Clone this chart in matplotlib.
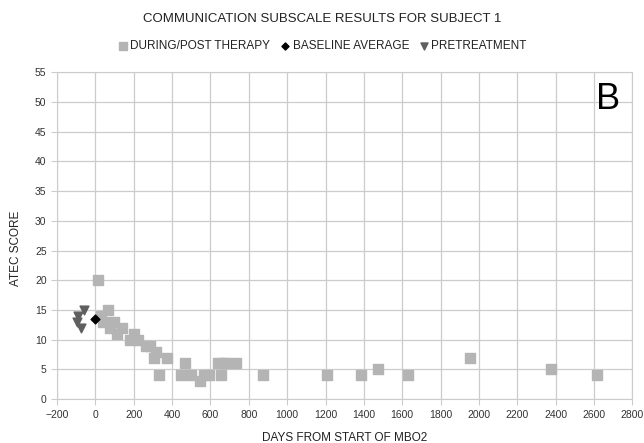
import numpy as np
import matplotlib.pyplot as plt

plt.rcParams['font.family'] = ['Liberation Sans', 'DejaVu Sans']

# during/post therapy measurements (days, score)
therapy_days = [14, 31, 40, 64, 78, 99, 115, 139, 179, 204, 221, 263, 287, 305, 318,
                334, 371, 444, 466, 501, 548, 566, 592, 641, 657, 665, 679, 731, 874,
                1210, 1384, 1474, 1628, 1955, 2376, 2616]
therapy_score = [20, 14, 13, 15, 12, 13, 11, 12, 10, 11, 10, 9, 9, 7, 8,
                 4, 7, 4, 6, 4, 3, 4, 4, 6, 4, 6, 6, 6, 4,
                 4, 4, 5, 4, 7, 5, 4]

baseline_days = [0]
baseline_score = [13.5]

pre_days = [-96, -90, -75, -61]
pre_score = [13, 14, 12, 15]

fig = plt.figure(figsize=(6.44, 4.43), dpi=100)
ax = fig.add_axes([0.0885, 0.099, 0.8935, 0.738])

ax.scatter(therapy_days, therapy_score, marker='s', s=42, color='#b4b4b4',
           label='DURING/POST THERAPY', zorder=3)
ax.scatter(baseline_days, baseline_score, marker='D', s=20, color='black',
           label='BASELINE AVERAGE', zorder=4)
ax.scatter(pre_days, pre_score, marker='v', s=40, color='#5f5f5f',
           label='PRETREATMENT', zorder=3)

ax.set_xlim(-200, 2800)
ax.set_ylim(0, 55)
ax.set_xticks(np.arange(-200, 2801, 200))
ax.set_yticks(np.arange(0, 56, 5))
ax.grid(color='#cccccc', linewidth=0.9)
ax.set_axisbelow(True)
for s in ax.spines.values():
    s.set_color('#cccccc')
ax.tick_params(colors='#cccccc', labelcolor='#333333', labelsize=7.5, length=4)

ax.set_xlabel('DAYS FROM START OF MBO2', fontsize=8.5, color='#222222', labelpad=9)
ax.set_ylabel('ATEC SCORE', fontsize=8.5, color='#222222')
ax.yaxis.set_label_coords(-0.06, 0.46)

fig.text(0.5, 0.957, 'COMMUNICATION SUBSCALE RESULTS FOR SUBJECT 1',
         ha='center', va='center', fontsize=9.5, color='#222222')
fig.legend(loc='center', bbox_to_anchor=(0.5, 0.897), ncol=3, frameon=False,
           fontsize=8.5, handletextpad=0.1, columnspacing=0.8, handlelength=1,
           markerscale=0.8, labelcolor='#222222')

ax.text(0.957, 0.97, 'B', transform=ax.transAxes, ha='center', va='top',
        fontsize=26)

fig.savefig('out.png', dpi=100)
